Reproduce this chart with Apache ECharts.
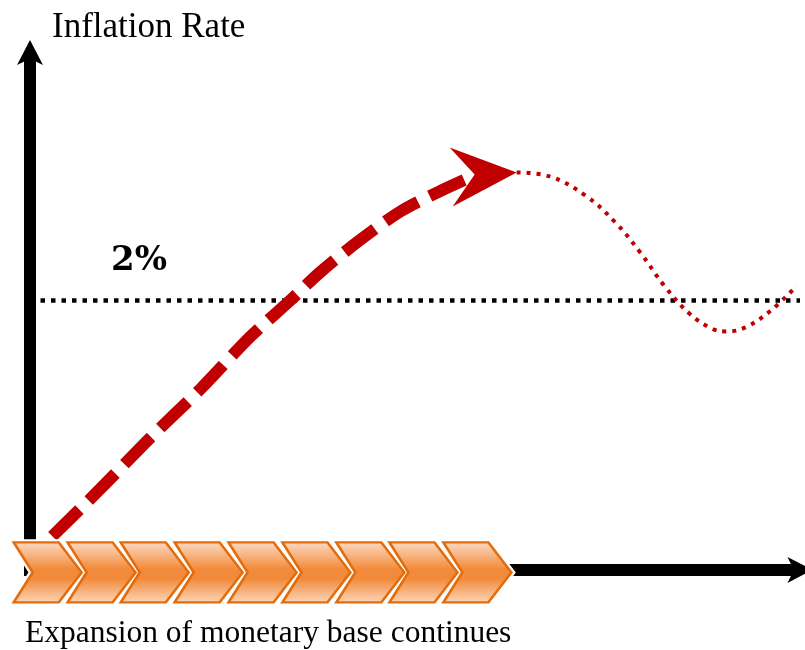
<!DOCTYPE html>
<html>
<head>
<meta charset="utf-8">
<script src="https://cdn.jsdelivr.net/npm/echarts@6/dist/echarts.min.js"></script>
<style>
  html, body { margin: 0; padding: 0; background: #fff; }
  #chart { width: 805px; height: 650px; }
</style>
</head>
<body>
<div id="chart"></div>
<script>
// x = time (0..100), y = inflation rate in %
const yMin = -0.045;
const yMax = 3.84;
const target = 2;
const targetLine = [[0, target], [100, target]];

// red dashed path rising towards the arrow
const rise = [[2.9, 0.25], [9.1, 0.6], [15.6, 0.98], [22.1, 1.34], [28.6, 1.73], [33.8, 2.0],
  [37.7, 2.21], [42.9, 2.45], [48.1, 2.66], [53.2, 2.81], [57.8, 2.93]];
const arrowTip = [[63.2, 2.95]];

// red dotted path after the arrow
const drift = [[63.2, 2.95], [67.5, 2.92], [72.1, 2.78], [76.0, 2.58], [79.2, 2.36], [82.5, 2.1],
  [85.7, 1.9], [88.6, 1.79], [90.5, 1.77], [92.9, 1.8], [96.1, 1.92], [99.6, 2.11]];

// centres of the orange chevrons on the time axis
const chevronX = [2.3, 9.3, 16.2, 23.2, 30.2, 37.2, 44.2, 51.1, 58.1];

const yTitle = "Inflation Rate";
const targetText = "2%";
const caption = "Expansion of monetary base continues";

let myChart = echarts.init(document.getElementById("chart"));

let axisLine = {
  show: true,
  symbol: ["none", "arrow"],
  symbolSize: [19.5, 25],
  symbolOffset: [0, 12.5],
  lineStyle: { color: "#000", width: 12, cap: "butt" }
};
let chevronPath = "path://M0,0 L45,0 L68,30 L45,60 L0,60 L19,30 Z";
let chevronData = chevronX.map(function (x) { return [x, 0]; });

let option = {
  animation: false,
  title: [
    {
      text: yTitle, left: 52, top: 10, padding: 0,
      textStyle: { fontFamily: "Liberation Serif", fontWeight: "normal", fontSize: 35, color: "#000" }
    },
    {
      text: targetText, left: 111, top: 244, padding: 0,
      textStyle: { fontFamily: "DejaVu Serif", fontWeight: "bold", fontSize: 34, color: "#000" }
    },
    {
      text: caption, left: 25, top: 618, padding: 0,
      textStyle: { fontFamily: "Liberation Serif", fontWeight: "normal", fontSize: 31.5, color: "#000" }
    }
  ],
  grid: { left: 30, right: 5, top: 52.5, bottom: 74 },
  xAxis: {
    type: "value", min: 0, max: 100,
    axisLine: axisLine,
    axisTick: { show: false }, axisLabel: { show: false }, splitLine: { show: false }
  },
  yAxis: {
    type: "value", min: yMin, max: yMax,
    axisLine: axisLine,
    axisTick: { show: false }, axisLabel: { show: false }, splitLine: { show: false }
  },
  series: [
    {
      name: "target", type: "line", data: targetLine, symbol: "none", z: 2,
      lineStyle: { color: "#000", width: 4.5, type: [4.5, 6], cap: "butt" }
    },
    {
      name: "rise", type: "line", data: rise, symbol: "none", smooth: 0.3, z: 3,
      lineStyle: { color: "#c00000", width: 12, type: [38, 13], cap: "butt" }
    },
    {
      name: "drift", type: "line", data: drift, symbol: "none", smooth: 0.4, z: 3,
      lineStyle: { color: "#c00000", width: 4, type: [4, 6], cap: "butt" }
    },
    {
      name: "arrow", type: "scatter", data: arrowTip, z: 4,
      symbol: "path://M0,0 L67,25 L3,59 L25,27 Z",
      symbolSize: [67, 59], symbolOffset: [-33.5, 4.5],
      itemStyle: { color: "#c00000", opacity: 1 }
    },
    {
      // white rim behind each chevron
      name: "halo", type: "scatter", z: 4, data: chevronData,
      symbol: chevronPath, symbolSize: [68, 60], symbolOffset: [0, 2.5],
      itemStyle: { color: "#fff", borderColor: "#fff", borderWidth: 7, opacity: 1 }
    },
    {
      name: "expansion", type: "scatter", z: 5, data: chevronData,
      symbol: chevronPath, symbolSize: [68, 60], symbolOffset: [0, 2.5],
      itemStyle: {
        opacity: 1,
        color: {
          type: "linear", x: 0, y: 0, x2: 0, y2: 1,
          colorStops: [
            { offset: 0, color: "#fddcc5" },
            { offset: 0.45, color: "#f28a3b" },
            { offset: 0.6, color: "#f28a3b" },
            { offset: 1, color: "#fcd8bc" }
          ]
        },
        borderColor: "#e46c0a",
        borderWidth: 2.5
      }
    }
  ]
};
myChart.setOption(option);
</script>
</body>
</html>
